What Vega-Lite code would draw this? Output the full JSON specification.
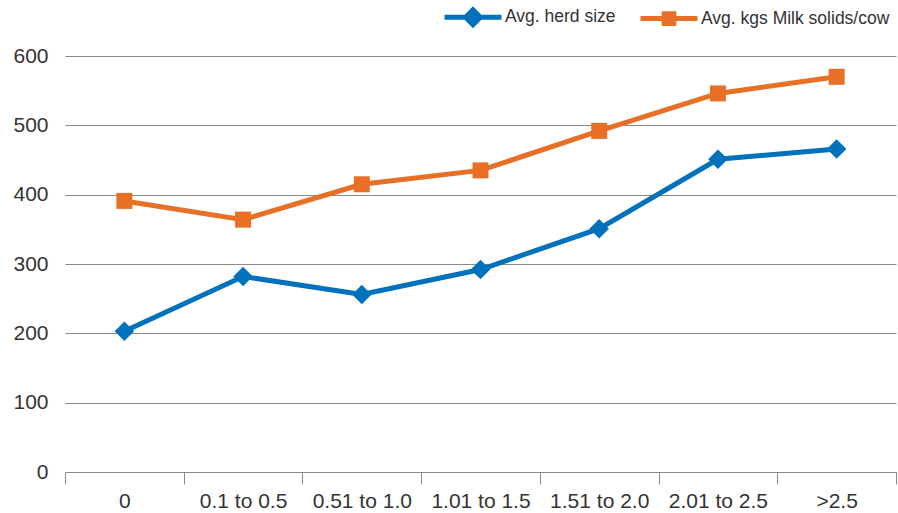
{
  "$schema": "https://vega.github.io/schema/vega-lite/v6.json",
  "width": 831,
  "height": 416,
  "autosize": {"type": "none"},
  "padding": {"left": 65, "top": 56, "right": 2, "bottom": 41},
  "background": "white",
  "config": {"view": {"stroke": null}, "font": "Liberation Sans"},
  "data": {
    "values": [
      {"cat": "0", "series": "Avg. herd size", "value": 203},
      {"cat": "0.1 to 0.5", "series": "Avg. herd size", "value": 282},
      {"cat": "0.51 to 1.0", "series": "Avg. herd size", "value": 256},
      {"cat": "1.01 to 1.5", "series": "Avg. herd size", "value": 292},
      {"cat": "1.51 to 2.0", "series": "Avg. herd size", "value": 351},
      {"cat": "2.01 to 2.5", "series": "Avg. herd size", "value": 451},
      {"cat": ">2.5", "series": "Avg. herd size", "value": 466},
      {"cat": "0", "series": "Avg. kgs Milk solids/cow", "value": 391},
      {"cat": "0.1 to 0.5", "series": "Avg. kgs Milk solids/cow", "value": 364},
      {"cat": "0.51 to 1.0", "series": "Avg. kgs Milk solids/cow", "value": 415},
      {"cat": "1.01 to 1.5", "series": "Avg. kgs Milk solids/cow", "value": 435},
      {"cat": "1.51 to 2.0", "series": "Avg. kgs Milk solids/cow", "value": 492},
      {"cat": "2.01 to 2.5", "series": "Avg. kgs Milk solids/cow", "value": 546},
      {"cat": ">2.5", "series": "Avg. kgs Milk solids/cow", "value": 570}
    ]
  },
  "encoding": {
    "x": {
      "field": "cat",
      "type": "ordinal",
      "sort": ["0", "0.1 to 0.5", "0.51 to 1.0", "1.01 to 1.5", "1.51 to 2.0", "2.01 to 2.5", ">2.5"],
      "scale": {"paddingInner": 0, "paddingOuter": 0},
      "axis": {
        "title": null,
        "tickBand": "extent",
        "tickSize": 12,
        "tickColor": "#8a8a8a",
        "domainColor": "#8a8a8a",
        "labelFontSize": 21,
        "labelColor": "#333333",
        "labelPadding": 6,
        "labelAngle": 0,
        "grid": false
      }
    },
    "y": {
      "field": "value",
      "type": "quantitative",
      "scale": {"domain": [0, 600]},
      "axis": {
        "title": null,
        "values": [0, 100, 200, 300, 400, 500, 600],
        "domain": false,
        "ticks": false,
        "tickSize": 0,
        "labelPadding": 17,
        "labelFontSize": 21,
        "labelColor": "#333333",
        "gridColor": "#8a8a8a",
        "gridWidth": 1
      }
    }
  },
  "layer": [
    {
      "mark": {"type": "line", "strokeWidth": 5},
      "encoding": {
        "color": {
          "field": "series",
          "type": "nominal",
          "scale": {
            "domain": ["Avg. herd size", "Avg. kgs Milk solids/cow"],
            "range": ["#0072BC", "#E87026"]
          },
          "legend": {
            "orient": "none",
            "legendX": 377,
            "legendY": -70,
            "direction": "horizontal",
            "title": null,
            "padding": 0,
            "labelFontSize": 17.5,
            "labelColor": "#333333",
            "labelLimit": 400,
            "symbolSize": 3249,
            "symbolStrokeWidth": 5,
            "labelOffset": 1,
            "columnPadding": 14,
            "encode": {
              "symbols": {
                "update": {
                  "shape": {"signal": "datum.value === 'Avg. herd size' ? 'M-1,0H1M-0.26,0L0,-0.26L0.26,0L0,0.26Z' : 'M-1,0H1M-0.17,-0.17H0.17V0.17H-0.17Z'"},
                  "fill": {"signal": "datum.value === 'Avg. herd size' ? '#0072BC' : '#E87026'"},
                  "strokeWidth": {"value": 5},
                  "opacity": {"value": 1}
                }
              }
            }
          }
        }
      }
    },
    {
      "mark": {"type": "point", "filled": true, "opacity": 1},
      "encoding": {
        "fill": {"condition": {"test": "datum.series === 'Avg. herd size'", "value": "#0072BC"}, "value": "#E87026"},
        "shape": {"condition": {"test": "datum.series === 'Avg. herd size'", "value": "diamond"}, "value": "square"},
        "size": {"condition": {"test": "datum.series === 'Avg. herd size'", "value": 380}, "value": 256}
      }
    }
  ]
}
